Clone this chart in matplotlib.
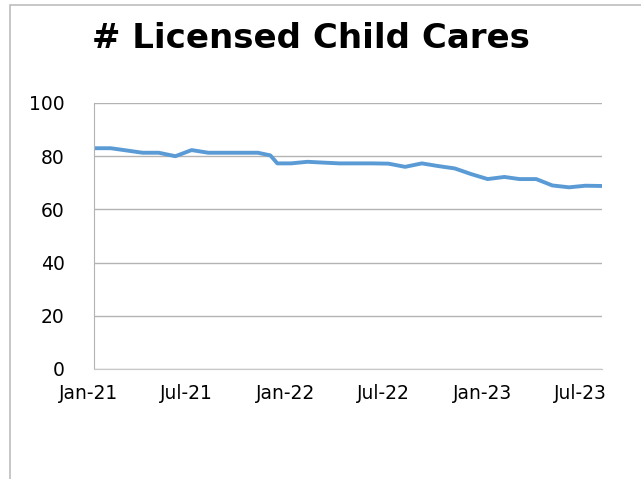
import numpy as np
import pandas as pd
import matplotlib
matplotlib.use("Agg")
import matplotlib.pyplot as plt
import matplotlib.transforms as mtransforms
from matplotlib.patches import Rectangle

# values (monthly, plus one mid-December point)
dates = pd.to_datetime([
    "2021-01-01", "2021-02-01", "2021-03-01", "2021-04-01", "2021-05-01",
    "2021-06-01", "2021-07-01", "2021-08-01", "2021-09-01", "2021-10-01",
    "2021-11-01", "2021-11-24", "2021-12-07", "2022-01-01", "2022-02-01",
    "2022-03-01", "2022-04-01", "2022-05-01", "2022-06-01", "2022-07-01",
    "2022-08-01", "2022-09-01", "2022-10-01", "2022-11-01", "2022-12-01",
    "2023-01-01", "2023-02-01", "2023-03-01", "2023-04-01", "2023-05-01",
    "2023-06-01", "2023-07-01", "2023-08-01",
])
counts = [83, 83, 82.2, 81.3, 81.3,
          80, 82.3, 81.3, 81.3, 81.3,
          81.3, 80.3, 77.3, 77.3, 77.9,
          77.6, 77.3, 77.3, 77.3, 77.2,
          76, 77.3, 76.3, 75.4, 73.3,
          71.4, 72.2, 71.4, 71.4, 69,
          68.3, 68.9, 68.8]

tick_dates = pd.to_datetime(["2021-01-01", "2021-07-01", "2022-01-01",
                             "2022-07-01", "2023-01-01", "2023-07-01"])
tick_labels = ["Jan-21", "Jul-21", "Jan-22", "Jul-22", "Jan-23", "Jul-23"]

fig = plt.figure(figsize=(6.41, 4.79), dpi=100)
ax = fig.add_axes([94/641, 1 - 369/479, (602 - 94)/641, (369 - 103)/479])

ax.plot(dates, counts, color="#5B9BD5", lw=2.8, solid_joinstyle="round")

ax.set_xlim(dates[0], dates[-1])
ax.set_ylim(0, 100)
ax.set_yticks(np.arange(0, 101, 20))
ax.set_xticks(tick_dates)
ax.set_xticklabels(tick_labels)
ax.tick_params(length=0, labelsize=13.5, colors="black")
ax.tick_params(axis="y", pad=21)
ax.tick_params(axis="x", pad=11)

# excel puts the date labels a little left of the tick
shift = mtransforms.ScaledTranslation(-5/100, 0, fig.dpi_scale_trans)
for lbl in ax.get_xticklabels():
    lbl.set_transform(lbl.get_transform() + shift)

ax.grid(axis="y", color="#B3B3B3", lw=1)
ax.set_axisbelow(True)
for s in ["top", "right"]:
    ax.spines[s].set_visible(False)
ax.spines["left"].set_color("#B3B3B3")
ax.spines["bottom"].set_color("#C8C8C8")

fig.text(0.485, 1 - 38/479, "# Licensed Child Cares", ha="center", va="center",
         fontsize=24.5, fontweight="bold")

# frame of the chart area, cut off at the edges
fig.add_artist(Rectangle((10/641, -0.1), 1.0, 1.1 - 5/479, transform=fig.transFigure,
                         fill=False, edgecolor="#BDBDBD", lw=1.2))

fig.savefig("out.png", dpi=100)
